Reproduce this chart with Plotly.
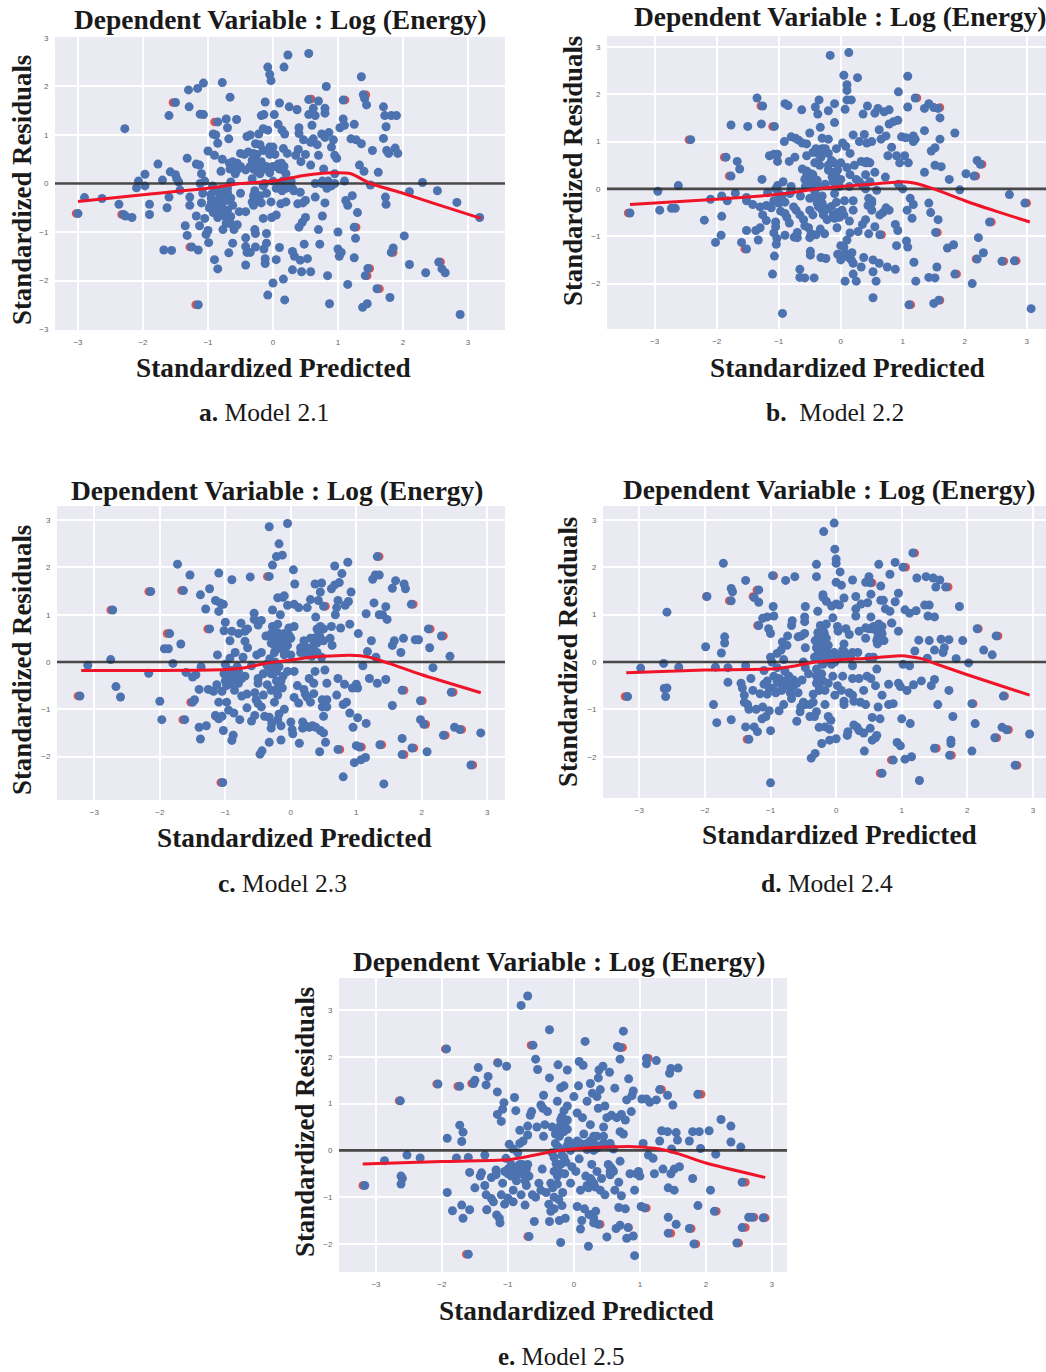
import plotly.graph_objects as go

W, H = 1046, 1372

a_points = [(-3.0,-0.62),(-2.9,-0.29),(-2.63,-0.31),(-2.37,-0.43),(-2.3,-0.64),(-2.27,-0.67),(-2.17,-0.7),(-2.28,1.13),(-2.1,-0.09),(-2.07,0.05),(-1.97,0.19),(-1.97,-0.05),(-1.9,-0.43),(-1.9,-0.64),(-1.77,0.4),(-1.7,0.07),(-1.68,-1.37),(-1.63,-0.5),(-1.6,-0.28),(-1.58,0.24),(-1.6,1.4),(-1.56,-1.38),(-1.5,1.67),(-1.5,0.18),(-1.48,0.1),(-1.45,0.03),(-1.43,-0.14),(-1.35,-0.87),(-1.32,-1.07),(-1.32,0.52),(-1.3,1.93),(-1.29,1.58),(-1.28,-0.28),(-1.28,-0.45),(-1.25,-1.31),(-1.18,-0.67),(-1.18,0.4),(-1.16,1.96),(-1.15,-2.5),(-1.15,-1.37),(-1.13,0.38),(-1.13,-0.87),(-1.12,1.43),(-1.07,2.07),(-1.07,1.42),
(-1.05,-0.72),(-1.03,-1.05),(-1.0,-0.97),(-0.99,-1.22),(-1.0,0.67),(-1.05,0.05),(-1.1,-0.4),(-1.08,-0.2),(-1.1,0.2),(-1.12,0.0),(-0.98,-0.5),(-0.95,-0.22),(-0.95,-0.4),(-0.93,-0.05),(-0.92,-0.6),(-0.9,0.58),(-0.92,1.02),(-0.88,1.0),(-0.85,0.83),(-0.9,-1.57),(-0.85,-1.76),(-0.85,1.27),(-0.85,-0.35),(-0.85,-0.5),(-0.85,-0.7),(-0.82,-0.2),(-0.8,-0.65),(-0.8,-0.4),(-0.78,2.08),(-0.78,0.5),(-0.8,0.25),(-0.78,-0.15),(-0.77,-0.95),(-0.75,-0.6),(-0.75,-0.25),(-0.72,-0.82),(-0.72,-0.7),(-0.72,1.33),(-0.7,1.15),(-0.7,-0.1),(-0.68,-1.43),(-0.68,0.92),(-0.67,0.42),(-0.66,0.3),(-0.65,0.03),(-0.65,-0.3),(-0.65,-0.68),(-0.66,1.78),(-0.65,-0.83),(-0.62,-0.45),(-0.62,-1.23),(-0.6,-0.95),(-0.6,0.38),(-0.58,0.2),(-0.56,1.32),(-0.55,-0.85),(-0.52,-0.58),(-0.5,0.62),(-0.5,0.35),(-0.5,-0.2),(-0.44,0.6),(-0.42,-1.12),(-0.42,-1.3),(-0.42,-1.68),(-0.4,-1.42),(-0.42,-0.58),(-0.4,0.97),(-0.38,0.65),(-0.35,-1.42),(-0.35,1.0),(-0.32,0.48),(-0.32,0.1),(-0.3,0.3),(-0.3,-0.45),(-0.28,-0.15),(-0.28,-0.95),(-0.27,-1.03),(-0.27,-1.31),(-0.27,0.82),(-0.25,0.6),(-0.24,0.4),(-0.22,1.02),(-0.22,-0.33),(-0.2,0.8),(-0.2,0.2),(-0.18,1.4),(-0.18,-0.4),(-0.15,0.68),(-0.15,1.13),(-0.15,-0.72),(-0.14,1.42),(-0.14,-1.35),(-0.13,0.0),(-0.12,1.68),(-0.12,-1.65),(-0.12,-1.55),(-0.1,0.35),(-0.1,-0.2),(-0.1,-1.23),(-0.1,-1.03),(-0.08,2.4),(-0.08,1.1),(-0.08,-2.3),(-0.05,2.25),(-0.05,0.75),(-0.05,0.22),(-0.03,2.12),(-0.03,-0.38),(-0.02,-0.7),(0.0,-2.05),(0.0,0.75),(0.0,0.05),(0.02,1.42),(0.03,0.6),(0.05,0.35),(0.05,-0.65),(0.05,-1.57),(0.08,1.22),(0.1,1.66),(0.1,0.3),(0.1,-1.32),(0.12,-0.42),(0.14,1.1),(0.14,-0.15),(0.16,0.72),(0.17,2.4),(0.17,0.35),(0.16,-1.97),(0.18,-2.4),(0.18,1.02),(0.2,0.2),(0.2,-0.38),(0.22,0.62),(0.23,2.65),(0.25,1.58),(0.28,0.05),(0.3,-1.4),(0.3,-1.78),(0.32,-0.15),(0.33,-1.5),(0.35,0.58),(0.37,1.52),(0.38,-0.42),(0.39,0.7),(0.4,1.03),(0.4,1.15),(0.4,-0.9),(0.42,-1.58),(0.42,-0.18),(0.43,0.45),(0.44,-1.82),(0.45,-0.8),(0.46,-0.4),(0.47,0.9),(0.48,-1.25),(0.5,-0.7),(0.5,0.6),(0.5,-0.35),(0.53,-1.55),(0.55,2.68),(0.55,1.42),(0.55,1.73),(0.58,0.85),(0.58,0.38),(0.58,-1.82),(0.6,1.2),(0.62,0.92),(0.62,1.55),(0.65,1.4),(0.65,0.0),(0.65,-0.28),(0.68,0.8),(0.7,0.58),(0.7,1.7),(0.7,-0.95),(0.72,-1.25),(0.75,1.02),(0.76,0.05),(0.76,-0.67),(0.78,0.3),(0.8,1.45),(0.8,1.55),(0.8,0.95),(0.8,-0.4),(0.82,2.0),(0.83,-0.1),(0.84,-1.9),(0.86,1.05),(0.87,-2.48),(0.9,0.75),(0.9,-0.05),(0.93,0.9),(0.95,0.2),(0.95,0.58),(0.98,0.52),(1.0,-1.0),(1.0,-1.35),(1.02,-1.5),(1.03,1.15),(1.05,-1.42),(1.08,1.72),(1.08,1.33),(1.1,1.2),(1.12,-0.35),(1.1,0.05),(1.15,-2.08),(1.15,-0.45),(1.2,0.92),(1.22,-0.25),(1.25,-0.9),(1.25,1.22),(1.25,-1.53),(1.27,-1.13),(1.28,0.9),(1.3,-0.6),(1.33,0.38),(1.36,0.82),(1.36,2.2),(1.38,-2.55),(1.39,1.83),(1.4,0.25),(1.41,1.75),(1.42,-1.9),(1.44,1.62),(1.45,-2.48),(1.46,-1.75),(1.5,-0.03),(1.53,0.68),(1.6,-2.17),(1.62,0.23),(1.7,1.58),(1.7,0.93),(1.72,1.4),(1.73,-0.28),(1.74,-0.43),(1.74,1.17),(1.75,0.68),(1.78,0.62),(1.8,-2.35),(1.82,1.4),(1.82,-1.42),(1.85,-1.33),(1.88,0.73),(1.9,1.4),(1.92,0.62),(2.02,-1.08),(2.1,-0.17),(2.1,-1.67),(2.3,0.02),(2.35,-1.84),(2.53,-0.15),(2.55,-1.62),(2.6,-1.76),(2.65,-1.84),(2.83,-0.39),(2.88,-2.7),(3.18,-0.7),
(-0.95,-0.3),(-0.9,-0.45),(-0.88,-0.15),(-0.88,-0.6),(-0.78,-0.5),(-0.72,-0.35),(-0.7,-0.55),(-0.7,-0.18),(-0.62,0.45),(-0.6,0.3),(-0.55,0.28),(-0.55,0.42),(-0.28,0.5),(-0.25,0.25),(-0.22,0.35),(-0.18,0.45),(-0.15,0.3),(-0.05,0.3),(0.0,0.35),(0.08,0.4),(0.13,0.42),(0.15,0.28),(0.05,-0.1),(0.15,0.05),(0.2,-0.1),(0.3,-0.1),(0.1,-0.05),(-0.3,-0.25),(-0.32,-0.38),(-0.2,-0.25),(-0.15,-0.05),(-0.3,0.62),(-0.35,0.35),(-0.42,0.28),(-0.05,0.6),(0.75,0.0),(0.85,0.05),(0.95,0.0)]
a_red = [(-3.03,-0.62),(-2.33,-0.64),(-1.19,-2.5),(-1.54,1.67),(0.59,1.74),(1.11,1.72),(1.43,1.83),(-1.28,-1.31),(1.64,-2.17),(1.85,-1.42),(1.49,-1.75),(1.45,-1.9),(2.58,-1.62),(0.37,1.53),(1.28,-0.9),(-0.9,1.27)]
a_fit = [(-3.0,-0.37),(-2.0,-0.23),(-1.0,-0.1),(-0.5,0.0),(0.0,0.05),(0.5,0.17),(0.9,0.22),(1.2,0.2),(1.5,0.0),(2.0,-0.2),(2.5,-0.42),(3.2,-0.72)]

b_points = [(-3.4,-0.51),(-2.95,-0.05),(-2.92,-0.45),(-2.73,-0.41),(-2.67,-0.41),(-2.62,0.07),(-2.42,1.04),(-2.2,-0.66),(-2.1,-0.22),(-2.02,-1.13),(-1.93,-0.98),(-1.92,-0.58),(-1.92,-0.15),(-1.85,0.67),(-1.83,-0.25),(-1.77,1.35),(-1.77,0.27),(-1.7,-0.09),(-1.67,0.58),(-1.63,0.42),(-1.6,-1.13),(-1.52,-1.27),(-1.52,-0.88),(-1.52,-0.18),(-1.52,-0.25),(-1.5,1.32),(-1.42,-0.33),(-1.37,-0.88),(-1.35,1.92),(-1.33,-1.08),(-1.3,-0.82),(-1.3,-0.38),(-1.28,1.37),(-1.27,0.2),(-1.26,1.75),(-1.26,-0.55),(-1.2,-0.67),(-1.2,-0.35),(-1.18,-0.08),(-1.15,0.7),(-1.12,-0.4),(-1.1,-1.8),(-1.08,0.73),(-1.08,-0.25),(-1.08,-0.93),(-1.07,-1.42),(-1.07,1.32),(-1.05,-0.7),(-1.05,-0.8),(-1.04,-1.17),(-1.03,-1.05),(-1.02,0.73),(-1.02,0.58),(-1.02,0.07),(-1.0,-0.2),(-1.0,-0.3),(-0.97,-0.47),(-0.94,-2.63),(-0.93,0.15),(-0.91,1.0),(-0.9,-0.98),(-0.9,-0.52),(-0.9,-0.28),(-0.9,1.8),(-0.87,-0.6),(-0.85,1.76),(-0.83,-0.72),(-0.83,0.58),(-0.82,-0.1),(-0.8,1.1),(-0.8,0.05),(-0.76,-0.38),(-0.75,-1.02),(-0.74,0.67),(-0.73,1.07),(-0.72,-0.45),(-0.7,-0.92),(-0.7,-1.03),(-0.68,1.03),(-0.66,-1.7),(-0.66,-0.55),(-0.66,-1.87),(-0.65,-0.15),(-0.63,1.67),(-0.62,0.42),(-0.62,0.97),(-0.6,-0.65),(-0.58,-1.88),(-0.58,-0.78),(-0.57,0.05),(-0.55,0.7),(-0.55,0.95),(-0.55,0.38),(-0.52,-0.82),(-0.5,-0.45),(-0.5,1.18),(-0.5,0.22),(-0.5,0.12),(-0.5,-0.2),(-0.5,-1.03),(-0.49,-1.32),(-0.49,-1.4),(-0.48,-0.95),(-0.45,-0.55),(-0.45,0.3),(-0.45,0.77),(-0.44,0.02),(-0.43,-1.88),(-0.42,0.55),(-0.41,1.73),(-0.4,-0.97),(-0.4,0.85),(-0.4,0.1),(-0.38,-0.22),(-0.38,-0.3),(-0.37,1.58),(-0.35,1.88),(-0.34,0.5),(-0.33,-0.85),(-0.33,1.3),(-0.32,0.67),(-0.32,-1.45),(-0.3,1.07),(-0.3,0.85),(-0.3,-0.45),(-0.3,-0.15),(-0.28,-0.55),(-0.26,-0.95),(-0.25,0.1),(-0.25,0.85),(-0.24,-1.47),(-0.22,-0.65),(-0.2,-0.42),(-0.2,0.75),(-0.2,1.05),(-0.2,0.4),(-0.2,1.65),(-0.17,2.82),(-0.15,-0.37),(-0.14,0.25),(-0.12,-0.55),(-0.11,0.55),(-0.1,-0.1),(-0.1,1.4),(-0.1,-0.62),(-0.1,1.8),(-0.08,0.3),(-0.07,0.85),(-0.07,-0.28),(-0.06,-0.82),(-0.05,-1.38),(-0.02,-0.6),(0.0,-1.2),(0.0,0.55),(0.0,0.2),(0.0,-1.5),(0.02,-0.45),(0.03,0.97),(0.05,-1.23),(0.05,2.4),(0.06,-0.25),(0.06,-1.35),(0.07,-1.95),(0.07,1.68),(0.08,0.9),(0.1,-1.08),(0.1,0.45),(0.1,2.2),(0.1,2.08),(0.1,1.88),(0.13,2.88),(0.13,-1.45),(0.14,-0.68),(0.14,0.05),(0.15,0.75),(0.15,0.3),(0.15,-0.93),(0.17,1.88),(0.17,-1.5),(0.18,-1.35),(0.2,-0.25),(0.2,-0.45),(0.2,1.14),(0.22,0.5),(0.2,-1.57),(0.2,-1.8),(0.25,0.2),(0.25,-1.95),(0.27,2.35),(0.28,-0.9),(0.3,1.0),(0.33,0.58),(0.33,-1.65),(0.35,-0.75),(0.36,1.58),(0.37,-1.45),(0.38,1.15),(0.4,-0.65),(0.4,0.3),(0.4,0.0),(0.42,0.58),(0.42,0.97),(0.43,1.75),(0.44,-0.35),(0.45,-0.95),(0.47,0.15),(0.5,-0.45),(0.5,1.0),(0.52,-2.3),(0.52,-1.5),(0.52,-1.75),(0.55,0.35),(0.55,1.6),(0.55,-0.8),(0.57,-1.95),(0.58,-0.03),(0.6,1.7),(0.62,-1.57),(0.62,1.25),(0.63,-0.55),(0.63,-0.97),(0.65,1.05),(0.68,-0.5),(0.7,1.63),(0.72,0.25),(0.73,1.12),(0.73,-0.4),(0.75,-1.65),(0.76,0.7),(0.78,-0.45),(0.78,1.67),(0.78,1.37),(0.82,0.88),(0.85,1.42),(0.88,-0.75),(0.88,-1.7),(0.9,0.7),(0.9,-1.2),(0.92,-0.88),(0.92,1.45),(0.93,2.05),(0.93,0.1),(0.95,0.55),(0.98,1.1),(1.0,0.0),(1.03,0.7),(1.05,1.08),(1.06,-1.1),(1.07,-0.45),(1.08,-1.23),(1.08,1.73),(1.08,2.38),(1.09,0.55),(1.1,-2.45),(1.12,-0.2),(1.15,-0.62),(1.17,-0.33),(1.17,1.12),(1.17,1.0),(1.18,-1.55),(1.2,1.92),(1.2,1.05),(1.21,-1.95),(1.35,1.7),(1.35,0.35),(1.35,1.23),(1.42,1.8),(1.42,-1.87),(1.42,-0.3),(1.45,-0.5),(1.46,0.8),(1.5,1.72),(1.5,-2.42),(1.52,0.87),(1.52,-1.88),(1.52,0.5),(1.53,-0.92),(1.55,-1.65),(1.57,-0.65),(1.57,1.7),(1.58,-2.35),(1.6,1.05),(1.6,1.5),(1.62,0.47),(1.72,-1.25),(1.75,0.2),(1.82,-1.18),(1.84,-1.8),(1.84,1.18),(1.92,-0.02),(2.02,0.32),(2.12,-2.0),(2.15,0.27),(2.2,0.6),(2.22,-1.03),(2.2,-1.48),(2.25,0.52),(2.3,-1.35),(2.4,-0.7),(2.6,-1.53),(2.72,-0.12),(2.8,-1.52),(2.97,-0.3),(3.07,-2.53),
(-0.58,0.2),(-0.55,0.28),(-0.52,0.1),(-0.48,0.32),(-0.45,0.18),(-0.42,-0.05),(-0.4,-0.15),(-0.38,0.18),(-0.36,-0.38),(-0.35,0.05),(-0.35,0.72),(-0.3,-0.3),(-0.28,-0.38),(-0.27,-0.48),(-0.25,0.78),(-0.2,0.5),(-0.15,0.6),(-0.15,0.35),(-0.12,0.15),(-0.05,0.4),(-0.02,0.05),(0.3,0.15),(0.35,0.08),(0.4,0.55),(0.47,0.55),(0.5,-0.25),(0.5,-0.3),(0.45,-0.2),(-0.05,-0.5),(-0.08,-0.6),(0.0,-0.5),(0.05,-0.55),(-1.0,-0.1),(-1.05,0.0),(-0.95,-0.15),(-0.8,-0.05)]
b_red = [(-3.43,-0.51),(-2.45,1.04),(-1.55,-1.27),(-1.88,0.67),(-1.8,0.27),(1.13,-2.45),(1.6,-2.35),(2.18,-1.48),(2.63,-1.53),(2.83,-1.52),(1.87,-1.8),(1.6,1.72),(1.23,1.92),(3.0,-0.3),(2.43,-0.7),(2.28,0.52),(2.18,0.27),(0.66,-0.97),(1.56,-0.92),(-1.29,1.75),(-1.1,1.32)]
b_fit = [(-3.4,-0.33),(-2.0,-0.22),(-1.2,-0.14),(-0.8,-0.08),(-0.4,0.0),(0.0,0.05),(0.5,0.1),(1.0,0.15),(1.2,0.12),(1.5,0.0),(2.0,-0.25),(2.5,-0.47),(3.05,-0.7)]

c_points = [(-3.22,-0.72),(-3.1,-0.07),(-2.75,0.05),(-2.72,1.1),(-2.67,-0.52),(-2.6,-0.74),(-2.14,1.49),(-2.17,-0.24),(-2.0,-0.83),(-1.97,-1.22),(-1.93,0.28),(-1.87,0.28),(-1.85,0.6),(-1.8,-0.03),(-1.68,0.38),(-1.73,2.07),(-1.64,1.51),(-1.62,-1.22),(-1.6,-0.22),(-1.54,1.84),(-1.5,-0.32),(-1.5,-0.85),(-1.47,-0.8),(-1.45,-0.27),(-1.4,-0.58),(-1.4,-1.38),(-1.38,-1.63),(-1.37,-0.1),(-1.38,1.42),(-1.3,1.12),(-1.29,-1.35),(-1.26,-0.58),(-1.24,1.55),(-1.24,0.7),(-1.18,-0.62),(-1.15,1.3),(-1.15,-1.13),(-1.13,-0.48),(-1.12,0.15),(-1.1,1.07),(-1.1,-0.85),(-1.1,-1.2),(-1.08,1.25),(-1.1,1.88),(-1.05,-1.15),(-1.05,-0.62),(-1.03,-1.45),(-1.03,1.22),(-1.02,0.66),(-1.04,-2.55),(-1.0,0.84),(-1.0,-0.4),(-1.0,-0.05),(-0.98,-0.85),(-0.95,-1.02),(-0.95,-0.3),(-0.92,-0.45),(-0.93,0.45),(-0.93,0.08),(-0.9,0.65),(-0.9,-0.18),(-0.9,-0.35),(-0.9,1.74),(-0.9,-1.66),(-0.88,-1.55),(-0.87,-1.08),(-0.86,-0.6),(-0.85,0.2),(-0.83,-0.3),(-0.82,-0.1),(-0.8,0.6),(-0.8,-0.45),(-0.78,-1.22),(-0.76,0.82),(-0.75,-0.72),(-0.73,0.1),(-0.7,-0.3),(-0.7,0.65),(-0.7,0.44),(-0.67,-0.68),(-0.66,0.7),(-0.66,0.3),(-0.67,-0.97),(-0.62,1.8),(-0.6,-1.25),(-0.6,-0.08),(-0.56,1.03),(-0.56,0.9),(-0.55,-0.65),(-0.55,-1.13),(-0.53,-0.8),(-0.52,0.15),(-0.5,0.78),(-0.5,-0.35),(-0.5,-0.88),(-0.5,-0.45),(-0.47,-1.95),(-0.45,-0.95),(-0.45,0.88),(-0.45,0.2),(-0.44,-1.88),(-0.42,-0.7),(-0.42,-0.25),(-0.4,-1.15),(-0.38,0.55),(-0.37,-0.05),(-0.36,-0.48),(-0.33,2.86),(-0.33,-1.17),(-0.33,-1.7),(-0.33,1.81),(-0.32,0.07),(-0.3,0.4),(-0.3,-0.6),(-0.3,-1.4),(-0.29,-1.3),(-0.28,1.1),(-0.28,2.05),(-0.28,0.75),(-0.27,-0.25),(-0.26,0.55),(-0.25,-0.85),(-0.25,0.2),(-0.24,0.0),(-0.22,-0.4),(-0.2,-1.22),(-0.22,2.23),(-0.2,1.36),(-0.2,0.8),(-0.2,0.5),(-0.2,-0.7),(-0.18,-0.1),(-0.18,-1.1),(-0.18,2.5),(-0.16,1.0),(-0.15,-1.35),(-0.15,-1.65),(-0.15,0.35),(-0.13,2.26),(-0.13,-0.55),(-0.12,-0.3),(-0.12,1.37),(-0.1,0.15),(-0.1,1.4),(-0.1,0.6),(-0.1,-1.0),(-0.08,0.45),(-0.05,2.93),(-0.05,-0.2),(-0.05,1.2),(-0.03,0.72),(0.0,-1.27),(0.0,0.15),(0.0,0.5),(0.02,-1.43),(0.03,-1.52),(0.04,1.95),(0.05,-0.75),(0.05,1.22),(0.05,0.75),(0.05,-0.2),(0.06,1.65),(0.1,-0.5),(0.12,-0.87),(0.12,1.15),(0.13,-1.72),(0.15,0.2),(0.18,-1.27),(0.18,-1.4),(0.2,-0.58),(0.2,0.35),(0.22,-0.68),(0.22,-1.35),(0.25,0.3),(0.25,1.15),(0.25,-0.75),(0.28,-0.35),(0.28,-1.38),(0.3,-0.85),(0.3,1.32),(0.3,0.5),(0.32,0.12),(0.33,-1.35),(0.35,-0.45),(0.35,-0.67),(0.37,1.65),(0.37,-0.2),(0.38,-1.38),(0.38,0.95),(0.4,0.7),(0.42,1.3),(0.44,-1.9),(0.44,0.55),(0.45,-1.45),(0.45,1.48),(0.47,1.67),(0.47,0.1),(0.48,-0.95),(0.48,-0.8),(0.5,1.18),(0.5,0.7),(0.5,-1.15),(0.5,-1.5),(0.52,-0.17),(0.53,-1.7),(0.55,-0.8),(0.55,-0.95),(0.55,-0.45),(0.6,0.5),(0.62,1.55),(0.62,0.75),(0.63,0.35),(0.67,1.63),(0.67,2.03),(0.68,1.0),(0.7,-0.7),(0.7,1.15),(0.72,-0.35),(0.72,-1.85),(0.72,1.3),(0.74,1.68),(0.76,0.72),(0.78,1.87),(0.8,-0.9),(0.8,-2.43),(0.82,-0.47),(0.83,1.2),(0.85,-0.85),(0.87,2.11),(0.88,1.28),(0.9,0.8),(0.9,-1.08),(0.92,1.48),(0.94,-0.55),(0.95,-1.38),(0.97,-2.13),(1.0,-0.47),(1.0,-1.77),(1.02,-1.18),(1.02,-0.55),(1.03,0.6),(1.05,-1.8),(1.07,-2.07),(1.1,-0.08),(1.14,-2.02),(1.15,-1.3),(1.15,1.02),(1.17,0.22),(1.2,-0.35),(1.23,0.45),(1.25,1.75),(1.27,1.25),(1.29,1.84),(1.3,0.1),(1.32,2.23),(1.32,-0.45),(1.35,1.0),(1.35,1.84),(1.36,-1.75),(1.4,1.0),(1.42,-2.58),(1.45,1.17),(1.45,-0.37),(1.47,0.9),(1.55,-0.92),(1.55,1.56),(1.55,0.35),(1.58,0.45),(1.6,1.72),(1.68,0.2),(1.7,-0.6),(1.7,-1.96),(1.7,-1.62),(1.72,0.5),(1.73,1.65),(1.75,1.55),(1.84,1.22),(1.85,-1.82),(1.9,0.47),(1.95,0.47),(1.98,-0.82),(1.98,-1.22),(2.03,-1.32),(2.08,-1.9),(2.1,0.7),(2.12,0.3),(2.17,-0.12),(2.33,-1.55),(2.3,0.55),(2.43,0.12),(2.45,-0.64),(2.5,-1.38),(2.58,-1.43),(2.75,-2.18),(2.9,-1.5),
(-1.02,-0.25),(-0.98,-0.5),(-0.97,-0.15),(-0.93,-0.22),(-0.88,-0.4),(-0.87,-0.25),(-0.8,-0.3),(-0.8,-0.2),(-0.75,-0.35),(-0.3,0.6),(-0.28,0.45),(-0.25,0.65),(-0.25,0.35),(-0.2,0.3),(-0.2,0.62),(-0.15,0.45),(-0.12,0.25),(-0.08,0.2),(-0.05,0.35),(-0.02,0.55),(-0.3,-0.1),(-0.3,-0.25),(-0.22,-0.2),(-0.15,-0.4),(-0.2,-0.55),(-0.35,-0.1),(0.15,0.3),(0.2,0.45),(0.25,0.15),(0.3,0.25),(0.35,0.35),(0.35,0.5),(0.42,0.65),(0.4,0.4),(0.45,0.75),(0.5,0.45),(0.2,0.2),(0.4,0.2)]
c_red = [(-3.25,-0.72),(-2.75,1.1),(-2.17,1.49),(-1.89,0.6),(-1.67,1.51),(-1.65,-1.22),(-1.53,-0.85),(-1.07,-2.55),(-1.27,0.7),(-1.15,-1.15),(-0.36,1.81),(0.53,1.18),(1.35,2.23),(2.13,0.7),(2.33,0.55),(2.48,-0.64),(2.78,-2.18),(1.73,-1.96),(1.88,-1.82),(2.36,-1.55),(1.87,1.22),(2.06,-1.32),(1.39,-1.75),(1.08,-1.8),(0.75,-1.85),(1.73,-0.6),(2.01,-0.82),(2.61,-1.43)]
c_fit = [(-3.2,-0.18),(-2.0,-0.18),(-1.0,-0.16),(-0.7,-0.12),(-0.4,-0.03),(0.0,0.04),(0.3,0.1),(0.9,0.14),(1.2,0.1),(1.5,-0.03),(2.0,-0.27),(2.9,-0.65)]

d_points = [(-3.18,-0.73),(-2.98,-0.13),(-2.63,-0.03),(-2.62,-0.56),(-2.58,-0.55),(-2.6,-0.73),(-2.58,1.05),(-2.4,-0.11),(-1.97,1.38),(-1.99,0.32),(-1.87,-0.9),(-1.84,-0.11),(-1.82,-1.28),(-1.75,0.19),(-1.72,2.08),(-1.7,0.53),(-1.7,0.4),(-1.65,-0.12),(-1.65,-0.43),(-1.6,1.29),(-1.6,1.55),(-1.58,1.48),(-1.6,-1.22),(-1.45,-0.45),(-1.43,-0.55),(-1.4,-0.7),(-1.4,-0.85),(-1.38,-1.37),(-1.38,1.72),(-1.38,-0.08),(-1.35,-0.9),(-1.33,-1.0),(-1.33,-1.63),(-1.3,-0.35),(-1.27,-0.6),(-1.25,-1.37),(-1.25,1.36),(-1.22,-1.0),(-1.2,-1.47),(-1.18,1.52),(-1.18,1.26),(-1.18,0.77),(-1.16,-0.67),(-1.13,-1.2),(-1.12,0.92),(-1.12,-0.95),(-1.1,-0.18),(-1.1,-0.47),(-1.07,-1.15),(-1.05,0.95),(-1.05,-0.68),(-1.05,-0.4),(-1.03,0.7),(-1.02,-1.03),(-1.0,0.6),(-1.02,-0.55),(-1.0,-1.45),(-1.0,0.1),(-1.0,-2.55),(-0.98,0.0),(-0.97,1.82),(-0.95,-0.3),(-0.96,-0.55),(-0.95,0.97),(-0.96,1.17),(-0.92,-0.65),(-0.9,0.18),(-0.9,-0.12),(-0.87,-0.35),(-0.87,-1.03),(-0.85,-0.45),(-0.84,0.25),(-0.83,-0.6),(-0.8,-0.9),(-0.82,0.42),(-0.8,0.05),(-0.78,-0.2),(-0.77,1.72),(-0.75,0.35),(-0.74,0.55),(-0.72,-0.3),(-0.7,-0.65),(-0.68,-0.77),(-0.68,0.77),(-0.67,0.87),(-0.65,-0.38),(-0.63,1.8),(-0.6,-1.25),(-0.58,0.53),(-0.58,-0.65),(-0.55,-1.05),(-0.54,-0.95),(-0.53,0.55),(-0.52,-0.38),(-0.5,-0.85),(-0.5,0.0),(-0.48,0.6),(-0.47,-0.12),(-0.47,-0.9),(-0.48,0.85),(-0.48,0.95),(-0.47,1.17),(-0.47,0.3),(-0.42,-0.25),(-0.4,-1.15),(-0.4,-0.9),(-0.38,-2.03),(-0.35,-0.68),(-0.35,-0.85),(-0.33,-1.15),(-0.32,-1.93),(-0.33,0.1),(-0.32,0.45),(-0.3,-0.15),(-0.3,-1.05),(-0.3,-0.45),(-0.3,2.06),(-0.3,1.8),(-0.28,1.07),(-0.27,0.55),(-0.27,0.2),(-0.26,-0.6),(-0.26,-1.38),(-0.25,-0.3),(-0.24,0.77),(-0.23,0.35),(-0.22,0.68),(-0.22,-1.72),(-0.2,-0.05),(-0.2,0.5),(-0.2,1.37),(-0.2,0.1),(-0.2,1.42),(-0.19,2.75),(-0.18,0.6),(-0.17,-0.9),(-0.17,-0.6),(-0.17,-1.37),(-0.15,0.25),(-0.15,1.28),(-0.15,0.8),(-0.12,-1.15),(-0.12,-0.45),(-0.1,-1.42),(-0.1,-1.65),(-0.1,0.15),(-0.08,-1.23),(-0.07,-0.05),(-0.07,1.18),(-0.05,0.93),(-0.05,-0.3),(-0.03,2.93),(-0.03,0.2),(-0.02,0.0),(-0.02,2.38),(-0.02,-0.7),(0.0,2.17),(0.0,2.08),(0.0,1.68),(0.0,1.22),(0.0,-1.62),(0.02,0.75),(0.02,-0.5),(0.03,0.65),(0.05,1.2),(0.06,0.1),(0.06,1.9),(0.08,-0.6),(0.08,1.62),(0.1,-0.3),(0.12,-0.83),(0.12,-0.9),(0.12,1.35),(0.12,0.38),(0.12,0.22),(0.15,0.7),(0.17,-1.55),(0.18,-1.47),(0.2,-0.65),(0.2,0.58),(0.22,0.1),(0.25,-0.08),(0.25,-0.35),(0.25,1.73),(0.25,-0.7),(0.27,-1.33),(0.27,-0.83),(0.3,0.97),(0.3,1.12),(0.3,1.38),(0.32,-1.38),(0.33,0.2),(0.35,-0.35),(0.35,-1.45),(0.35,0.65),(0.37,-0.85),(0.38,1.22),(0.42,-1.5),(0.42,-0.6),(0.45,1.68),(0.45,0.5),(0.45,-0.9),(0.43,-1.88),(0.47,-0.3),(0.48,1.25),(0.5,0.7),(0.5,1.8),(0.5,0.1),(0.52,1.67),(0.52,-1.4),(0.53,-0.35),(0.53,1.43),(0.53,0.95),(0.55,-1.17),(0.55,-1.65),(0.57,0.75),(0.57,0.1),(0.6,-1.6),(0.6,-0.5),(0.62,-1.55),(0.62,-0.15),(0.62,0.45),(0.63,0.38),(0.64,-0.95),(0.65,0.8),(0.65,2.06),(0.67,-1.2),(0.68,1.6),(0.68,1.3),(0.7,0.6),(0.7,-0.7),(0.7,-2.35),(0.72,1.3),(0.73,0.45),(0.75,1.12),(0.8,-0.9),(0.8,-0.47),(0.82,1.85),(0.82,1.07),(0.85,0.82),(0.87,-0.88),(0.87,-2.07),(0.9,2.1),(0.9,1.27),(0.93,-1.7),(0.95,-0.45),(0.95,1.45),(0.95,0.65),(0.98,-1.77),(0.98,-0.52),(1.0,-1.2),(1.02,-0.05),(1.02,2.0),(1.05,1.1),(1.05,-2.05),(1.08,-0.6),(1.12,1.03),(1.12,-0.08),(1.13,-1.3),(1.15,-2.0),(1.17,2.3),(1.18,-0.48),(1.2,0.23),(1.22,1.08),(1.23,1.77),(1.26,0.46),(1.27,-2.5),(1.3,-0.4),(1.35,1.2),(1.37,1.8),(1.39,0.08),(1.4,0.97),(1.42,0.45),(1.42,1.2),(1.45,-0.5),(1.48,1.77),(1.5,-1.82),(1.5,0.25),(1.5,-0.37),(1.5,0.95),(1.52,1.58),(1.55,-0.9),(1.58,1.73),(1.6,0.48),(1.63,0.2),(1.65,0.3),(1.67,1.58),(1.72,-0.6),(1.72,0.47),(1.73,-1.97),(1.75,-1.65),(1.75,-1.72),(1.78,-1.15),(1.83,0.07),(1.88,1.17),(1.93,0.45),(2.02,-0.02),(2.07,-1.88),(2.07,-0.88),(2.12,-1.3),(2.15,0.7),(2.25,0.25),(2.38,0.15),(2.42,-1.6),(2.44,0.55),(2.53,-1.38),(2.55,-0.72),(2.6,-1.43),(2.73,-2.18),(2.95,-1.52),
(-0.3,0.3),(-0.28,0.42),(-0.28,0.62),(-0.25,0.5),(-0.22,0.42),(-0.2,0.7),(-0.2,0.25),(-0.17,0.35),(-0.15,0.5),(-0.25,0.12),(-0.22,0.0),(-0.18,0.15),(-0.12,0.35),(-0.08,0.05),(-0.05,0.12),(0.0,0.15),(0.02,0.08),(0.1,0.25),(0.18,0.15),(0.25,0.2),(-0.3,-0.3),(-0.28,-0.45),(-0.22,-0.25),(-0.25,-0.55),(-0.2,-0.4),(-0.7,-0.38),(-0.75,-0.5),(-0.65,-0.5),(-0.6,-0.45),(-0.8,-0.4),(-0.9,-0.4),(0.45,0.72),(0.55,0.7),(0.6,0.7),(0.7,0.75),(0.62,0.65),(0.63,0.5),(0.68,0.45)]
d_red = [(-3.22,-0.73),(-1.98,1.38),(-2.62,-0.56),(-1.63,1.29),(-0.95,1.82),(-1.21,1.52),(-1.27,1.38),(1.2,2.3),(1.06,2.0),(0.55,1.67),(1.71,1.58),(0.67,-2.35),(0.84,-2.07),(2.76,-2.18),(2.57,-0.72),(2.17,0.7),(2.47,0.55),(2.09,-0.88),(2.45,-1.6),(2.63,-1.43),(1.53,-1.82),(-1.36,-1.63),(-1.2,0.77),(0.84,0.82),(1.76,-1.97),(1.08,-0.6)]
d_fit = [(-3.2,-0.23),(-2.0,-0.17),(-1.0,-0.15),(-0.7,-0.1),(-0.4,-0.02),(0.0,0.04),(0.5,0.08),(1.0,0.13),(1.3,0.07),(1.5,-0.03),(2.0,-0.27),(2.95,-0.7)]

e_points = [(-3.17,-0.75),(-2.87,-0.22),(-2.63,1.06),(-2.62,-0.55),(-2.6,-0.6),(-2.62,-0.72),(-2.53,-0.1),(-2.33,-0.16),(-2.06,1.42),(-1.93,2.17),(-1.92,-0.9),(-1.92,0.26),(-1.84,-1.29),(-1.78,-0.16),(-1.73,0.54),(-1.73,1.37),(-1.7,0.19),(-1.68,0.39),(-1.7,-1.17),(-1.68,-1.45),(-1.6,-0.15),(-1.6,-2.22),(-1.58,-0.47),(-1.58,-1.27),(-1.52,1.43),(-1.5,1.5),(-1.5,-0.8),(-1.45,1.77),(-1.42,-0.55),(-1.4,-0.48),(-1.35,-0.75),(-1.35,-0.1),(-1.33,1.4),(-1.33,-0.95),(-1.32,-1.27),(-1.3,1.58),(-1.25,-1.03),(-1.25,-0.58),(-1.22,-1.1),(-1.18,-0.42),(-1.18,-0.52),(-1.17,-1.38),(-1.16,0.77),(-1.16,1.25),(-1.15,1.87),(-1.13,-1.45),(-1.12,-1.55),(-1.1,-0.95),(-1.1,0.62),(-1.08,0.88),(-1.08,-0.7),(-1.06,1.02),(-1.05,-0.45),(-1.05,-1.15),(-1.03,-0.17),(-1.02,1.8),(-1.0,-1.02),(-1.0,-0.5),(-0.98,0.13),(-0.95,-0.55),(-0.92,0.03),(-0.92,-0.85),(-0.92,-1.1),(-0.9,-0.4),(-0.9,1.13),(-0.88,0.85),(-0.87,-0.65),(-0.85,-0.05),(-0.82,0.43),(-0.82,-0.3),(-0.82,0.15),(-0.8,-0.95),(-0.8,-0.5),(-0.8,3.1),(-0.77,0.2),(-0.75,-0.42),(-0.74,-0.65),(-0.74,-1.17),(-0.72,-0.75),(-0.7,0.52),(-0.7,0.33),(-0.7,3.3),(-0.7,-0.3),(-0.68,-0.55),(-0.68,-1.84),(-0.66,0.75),(-0.64,0.83),(-0.63,-0.95),(-0.62,2.25),(-0.6,-1.52),(-0.58,-1.0),(-0.58,1.95),(-0.56,0.5),(-0.55,1.73),(-0.53,-0.7),(-0.5,0.97),(-0.5,-0.85),(-0.48,-0.4),(-0.47,0.9),(-0.46,0.3),(-0.46,1.18),(-0.44,0.55),(-0.42,-0.9),(-0.4,0.83),(-0.38,-1.15),(-0.37,2.58),(-0.37,1.55),(-0.37,-1.52),(-0.35,-0.7),(-0.35,-1.3),(-0.33,-0.05),(-0.33,0.5),(-0.32,-0.8),(-0.3,-1.0),(-0.3,-0.45),(-0.3,-1.25),(-0.28,0.35),(-0.28,0.15),(-0.27,-0.28),(-0.25,-0.55),(-0.25,-0.72),(-0.25,1.05),(-0.23,-1.05),(-0.24,1.83),(-0.22,0.05),(-0.22,-0.47),(-0.22,-1.5),(-0.2,-1.97),(-0.2,0.65),(-0.2,1.34),(-0.18,-1.18),(-0.18,-0.1),(-0.17,-0.9),(-0.15,0.55),(-0.15,0.85),(-0.15,1.38),(-0.14,-0.5),(-0.13,-1.45),(-0.12,-0.25),(-0.1,0.95),(-0.1,0.65),(-0.1,1.72),(-0.08,0.2),(-0.05,-0.7),(-0.05,0.0),(-0.03,-0.35),(0.0,1.15),(0.0,0.12),(0.03,-0.45),(0.05,-1.2),(0.05,0.8),(0.07,1.38),(0.08,-0.18),(0.08,1.9),(0.1,0.15),(0.1,-0.85),(0.1,-1.68),(0.12,-1.5),(0.13,0.7),(0.14,1.82),(0.16,-1.25),(0.15,0.35),(0.17,2.33),(0.18,-0.55),(0.2,-0.75),(0.2,1.05),(0.2,0.02),(0.22,-2.05),(0.23,-1.37),(0.25,1.43),(0.25,0.55),(0.27,-0.65),(0.27,-0.3),(0.28,1.22),(0.3,-1.45),(0.3,0.15),(0.3,-1.55),(0.32,-0.78),(0.33,-1.3),(0.35,0.05),(0.35,1.15),(0.35,-0.45),(0.37,-1.58),(0.37,1.55),(0.37,0.9),(0.38,1.72),(0.4,1.3),(0.4,-0.85),(0.42,-0.6),(0.44,1.8),(0.45,0.15),(0.45,0.5),(0.47,-0.95),(0.47,0.95),(0.5,0.7),(0.5,-1.85),(0.52,-0.3),(0.54,1.67),(0.55,-0.52),(0.57,0.75),(0.58,-0.4),(0.6,0.03),(0.62,1.33),(0.62,-0.85),(0.64,-1.67),(0.65,0.7),(0.66,2.22),(0.68,-0.68),(0.68,-1.22),(0.7,-1.6),(0.7,0.4),(0.72,0.77),(0.7,-0.23),(0.7,2.2),(0.7,1.95),(0.72,-0.97),(0.75,2.55),(0.75,0.35),(0.78,-1.25),(0.78,0.65),(0.8,-1.88),(0.8,1.08),(0.82,-1.65),(0.83,1.53),(0.85,-0.5),(0.87,0.83),(0.88,1.17),(0.9,1.27),(0.9,-1.83),(0.92,-2.25),(0.92,-0.85),(0.95,-0.5),(0.98,-0.45),(1.0,-0.55),(1.02,-1.2),(1.03,1.1),(1.05,0.15),(1.07,-1.23),(1.1,1.85),(1.1,1.1),(1.1,1.97),(1.13,-0.1),(1.15,1.03),(1.2,-0.17),(1.22,-0.5),(1.25,1.92),(1.25,1.08),(1.3,1.3),(1.3,0.2),(1.33,0.42),(1.35,-0.4),(1.42,0.4),(1.42,1.18),(1.43,-1.77),(1.43,-0.8),(1.43,-1.43),(1.45,1.65),(1.47,1.75),(1.47,-0.5),(1.48,0.03),(1.5,0.97),(1.52,-0.85),(1.52,-0.4),(1.55,-1.58),(1.55,0.38),(1.57,0.22),(1.58,1.76),(1.6,-0.35),(1.75,0.2),(1.75,-1.67),(1.8,0.4),(1.8,-0.6),(1.82,-2.0),(1.88,1.2),(1.88,-1.18),(1.9,0.4),(1.92,0.04),(2.05,0.42),(2.07,-0.85),(2.13,-1.3),(2.15,-0.08),(2.23,0.66),(2.38,0.52),(2.38,0.18),(2.47,-1.98),(2.53,0.07),(2.55,-0.68),(2.55,-1.65),(2.65,-1.43),(2.7,-1.43),(2.87,-1.44),
(-0.25,0.45),(-0.22,0.3),(-0.2,0.55),(-0.18,0.72),(-0.15,0.4),(-0.12,0.62),(-0.1,0.45),(-0.25,0.08),(-0.3,-0.15),(-0.25,-0.3),(-0.2,-0.3),(-0.28,-0.45),(-0.15,-0.15),(-0.1,0.1),(0.05,0.2),(0.2,0.15),(0.25,0.2),(0.3,0.3),(0.35,0.3),(0.3,0.0),(0.4,0.1),(0.45,0.3),(0.5,0.1),(0.55,0.15),(0.55,-0.35),(0.6,-0.45),(0.55,-0.45),(-0.95,-0.4),(-0.9,-0.5),(-0.85,-0.35),(-0.82,-0.45),(-0.78,-0.3),(-0.75,-0.35),(-0.72,-0.4),(-1.0,-0.4),(-0.95,-0.3),(0.25,-0.6),(0.3,-0.7),(0.22,-0.8)]
e_red = [(-3.2,-0.75),(-2.65,1.06),(-1.95,2.17),(-2.08,1.42),(-1.16,1.88),(-0.65,2.25),(-1.76,1.37),(-1.55,1.43),(-1.32,-1.27),(-0.7,-1.84),(-1.63,-2.22),(0.7,2.2),(0.74,2.2),(1.88,1.2),(1.93,1.2),(2.6,-1.65),(2.6,-0.68),(2.9,-1.44),(2.73,-1.43),(2.5,-1.98),(1.85,-2.0),(1.78,-1.67),(1.47,-1.77),(0.4,-1.58),(0.83,-1.65),(1.1,-1.23),(1.33,1.3),(1.13,1.97),(2.16,-1.3)]
e_fit = [(-3.2,-0.29),(-2.0,-0.24),(-1.0,-0.2),(-0.7,-0.13),(-0.3,-0.02),(0.0,0.03),(0.5,0.07),(0.9,0.08),(1.3,0.03),(1.6,-0.08),(2.0,-0.27),(2.9,-0.58)]

panels = [
    dict(pts=a_points, red=a_red, fit=a_fit, px=(55,505), py=(37,330), xr=(-3.354,3.57), yr=(-3.02,3.02), yt=[-3,-2,-1,0,1,2,3],
         title=(280,19,"Dependent Variable : Log (Energy)"), xl=(273,368), yl=(22,190), cap=(264,413,"<b>a.</b> Model 2.1",25.5)),
    dict(pts=b_points, red=b_red, fit=b_fit, px=(607,1046), py=(36,329), xr=(-3.77,3.31), yr=(-2.96,3.23), yt=[-2,-1,0,1,2,3],
         title=(840,17,"Dependent Variable : Log (Energy)"), xl=(847,368), yl=(573,171), cap=(835,413,"<b>b.</b>  Model 2.2",25.5)),
    dict(pts=c_points, red=c_red, fit=c_fit, px=(57,505), py=(506,800), xr=(-3.57,3.27), yr=(-2.92,3.30), yt=[-2,-1,0,1,2,3],
         title=(277,491,"Dependent Variable : Log (Energy)"), xl=(294,838), yl=(22,660), cap=(282,883,"<b>c.</b> Model 2.3",25.5)),
    dict(pts=d_points, red=d_red, fit=d_fit, px=(603,1046), py=(506,798), xr=(-3.555,3.2), yr=(-2.87,3.29), yt=[-2,-1,0,1,2,3],
         title=(829,489,"Dependent Variable : Log (Energy)"), xl=(839,835), yl=(568,652), cap=(827,883,"<b>d.</b> Model 2.4",25.5)),
    dict(pts=e_points, red=e_red, fit=e_fit, px=(339,787), py=(978,1272), xr=(-3.56,3.23), yr=(-2.6,3.686), yt=[-2,-1,0,1,2,3],
         title=(559,961,"Dependent Variable : Log (Energy)"), xl=(576,1311), yl=(305,1122), cap=(561,1356,"<b>e.</b> Model 2.5",25)),
]

XLABEL = "Standardized Predicted"
YLABEL = "Standardized Residuals"
SERIF = "Liberation Serif"
INK = "#1a1a1a"

fig = go.Figure()
layout = {}
annotations = []
for i, p in enumerate(panels):
    s = "" if i == 0 else str(i + 1)
    xa, ya = "x" + s, "y" + s
    layout["xaxis" + s] = dict(
        domain=[p["px"][0] / W, p["px"][1] / W], range=list(p["xr"]), anchor=ya,
        tickvals=[-3,-2,-1,0,1,2,3], ticktext=["−3","−2","−1","0","1","2","3"],
        showgrid=True, gridcolor="#FFFFFF", gridwidth=1.5, zeroline=False, showline=False,
        ticks="outside", ticklen=4, tickcolor="rgba(0,0,0,0)",
        tickfont=dict(family="Liberation Sans", size=8, color="#666666"))
    layout["yaxis" + s] = dict(
        domain=[1 - p["py"][1] / H, 1 - p["py"][0] / H], range=list(p["yr"]), anchor=xa,
        tickvals=p["yt"], ticktext=[str(v).replace("-", "−") for v in p["yt"]],
        showgrid=True, gridcolor="#FFFFFF", gridwidth=1.5, zeroline=False, showline=False,
        ticks="outside", ticklen=4, tickcolor="rgba(0,0,0,0)",
        tickfont=dict(family="Liberation Sans", size=8, color="#666666"))

    fig.add_trace(go.Scatter(x=[q[0] for q in p["red"]], y=[q[1] for q in p["red"]], mode="markers",
                             marker=dict(size=8.5, color="#D9534F"), xaxis=xa, yaxis=ya, showlegend=False))
    fig.add_trace(go.Scatter(x=[q[0] for q in p["pts"]], y=[q[1] for q in p["pts"]], mode="markers",
                             marker=dict(size=9, color="#4C72B0"), xaxis=xa, yaxis=ya, showlegend=False))
    fig.add_trace(go.Scatter(x=list(p["xr"]), y=[0, 0], mode="lines",
                             line=dict(color="rgba(40,40,40,0.85)", width=2.6), xaxis=xa, yaxis=ya, showlegend=False))
    fig.add_trace(go.Scatter(x=[q[0] for q in p["fit"]], y=[q[1] for q in p["fit"]], mode="lines",
                             line=dict(color="#F01428", width=3, shape="spline", smoothing=0.5),
                             xaxis=xa, yaxis=ya, showlegend=False))

    def note(px, py, text, size, angle=0):
        annotations.append(dict(xref="paper", yref="paper", x=px / W, y=1 - py / H, text=text, showarrow=False,
                                xanchor="center", yanchor="middle", textangle=angle,
                                font=dict(family=SERIF, size=size, color=INK)))
    note(p["title"][0], p["title"][1], "<b>" + p["title"][2] + "</b>", 27.5)
    note(p["xl"][0], p["xl"][1], "<b>" + XLABEL + "</b>", 27.3)
    note(p["yl"][0], p["yl"][1], "<b>" + YLABEL + "</b>", 26.8, -90)
    note(p["cap"][0], p["cap"][1], p["cap"][2], p["cap"][3])

fig.update_layout(width=W, height=H, margin=dict(l=0, r=0, t=0, b=0, autoexpand=False), paper_bgcolor="#FFFFFF",
                  plot_bgcolor="#EAEAF2", annotations=annotations, showlegend=False, **layout)
fig.write_html("out.html", config={"displayModeBar": False}, post_script="document.body.style.margin='0';")
